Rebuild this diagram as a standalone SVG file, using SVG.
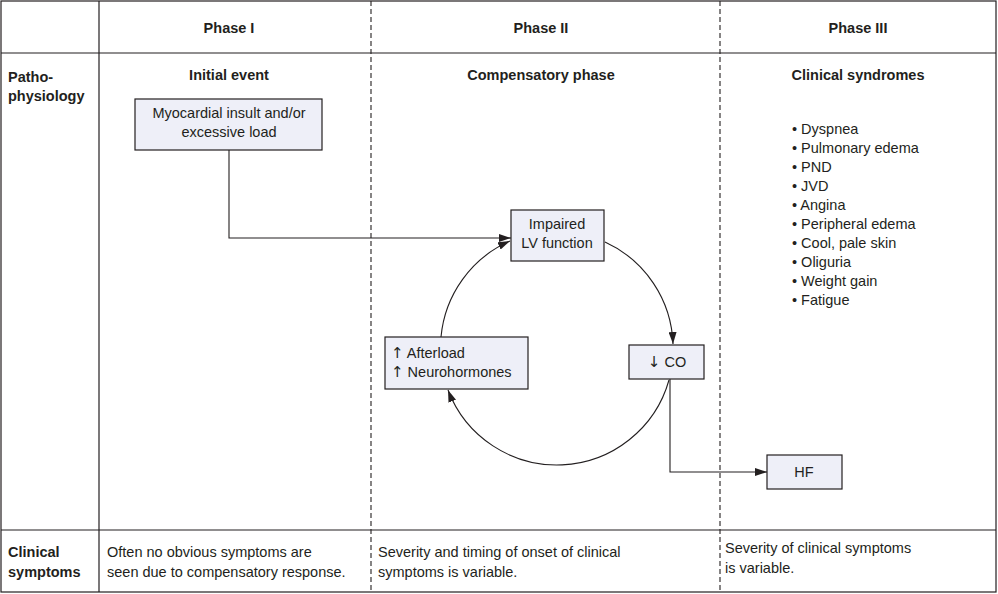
<svg xmlns="http://www.w3.org/2000/svg" width="998" height="594" viewBox="0 0 998 594">
<style>
text{font-family:"Liberation Sans",Arial,sans-serif;font-size:14.5px;fill:#231f20}
.b{font-weight:bold}
.c{text-anchor:middle}
.ar{font-family:"DejaVu Sans",sans-serif;font-size:15px}
.grid{stroke:#231f20;stroke-width:1.2;fill:none}
.dash{stroke:#231f20;stroke-width:1.1;stroke-dasharray:5 3;fill:none}
.box{fill:#eeeff8;stroke:#231f20;stroke-width:1.2}
.con{stroke:#231f20;stroke-width:1.1;fill:none;marker-end:url(#ah)}
</style>
<defs>
<marker id="ah" viewBox="0 0 12 8" refX="12" refY="4" markerWidth="12" markerHeight="8" markerUnits="userSpaceOnUse" orient="auto">
<path d="M0,0 L12,4 L0,8 Z" fill="#231f20"/>
</marker>
</defs>
<rect width="998" height="594" fill="#fff"/>
<g id="table">
<rect class="grid" x="1" y="1" width="995" height="591"/>
<line class="grid" x1="1" y1="53" x2="996" y2="53"/>
<line class="grid" x1="1" y1="530" x2="996" y2="530"/>
<line class="grid" x1="99" y1="1" x2="99" y2="592"/>
<line class="dash" x1="371" y1="1" x2="371" y2="592"/>
<line class="dash" x1="720" y1="1" x2="720" y2="592"/>
</g>
<g id="headers">
<text class="b c" x="229" y="33">Phase I</text>
<text class="b c" x="541" y="33">Phase II</text>
<text class="b c" x="858" y="33">Phase III</text>
<text class="b" x="8" y="82">Patho-</text>
<text class="b" x="8" y="101">physiology</text>
<text class="b c" x="229" y="80">Initial event</text>
<text class="b c" x="541" y="80">Compensatory phase</text>
<text class="b c" x="858" y="80">Clinical syndromes</text>
<text class="b" x="8" y="557">Clinical</text>
<text class="b" x="8" y="577">symptoms</text>
</g>
<g id="symptoms-text">
<text x="107" y="557">Often no obvious symptoms are</text>
<text x="107" y="577">seen due to compensatory response.</text>
<text x="378" y="557">Severity and timing of onset of clinical</text>
<text x="378" y="577">symptoms is variable.</text>
<text x="725" y="553">Severity of clinical symptoms</text>
<text x="725" y="573">is variable.</text>
</g>
<g id="syndromes-list">
<text x="792" y="134">• Dyspnea</text>
<text x="792" y="153">• Pulmonary edema</text>
<text x="792" y="172">• PND</text>
<text x="792" y="191">• JVD</text>
<text x="792" y="210">• Angina</text>
<text x="792" y="229">• Peripheral edema</text>
<text x="792" y="248">• Cool, pale skin</text>
<text x="792" y="267">• Oliguria</text>
<text x="792" y="286">• Weight gain</text>
<text x="792" y="305">• Fatigue</text>
</g>
<g id="connectors">
<path class="con" d="M229,150 V238 H511"/>
<path class="con" d="M605,242 A116.5,116.5 0 0 1 673,344"/>
<path class="con" d="M669,380 A116.5,116.5 0 0 1 448,390"/>
<path class="con" d="M441,337 A116.5,116.5 0 0 1 510,241"/>
<path class="con" d="M670,379 V472 H767"/>
</g>
<g id="node-insult">
<rect class="box" x="135" y="99" width="187" height="51"/>
<text class="c" x="229" y="118">Myocardial insult and/or</text>
<text class="c" x="229" y="137">excessive load</text>
</g>
<g id="node-lv">
<rect class="box" x="511" y="210" width="93" height="51"/>
<text class="c" x="557" y="229">Impaired</text>
<text class="c" x="557" y="248">LV function</text>
</g>
<g id="node-co">
<rect class="box" x="629" y="345" width="75" height="34"/>
<text class="c" x="667" y="367"><tspan class="ar">↓</tspan> CO</text>
</g>
<g id="node-afterload">
<rect class="box" x="385" y="337" width="143" height="52"/>
<text x="391" y="358"><tspan class="ar">↑</tspan> Afterload</text>
<text x="391" y="377"><tspan class="ar">↑</tspan> Neurohormones</text>
</g>
<g id="node-hf">
<rect class="box" x="767" y="455" width="75" height="34"/>
<text class="c" x="804" y="477">HF</text>
</g>
</svg>
